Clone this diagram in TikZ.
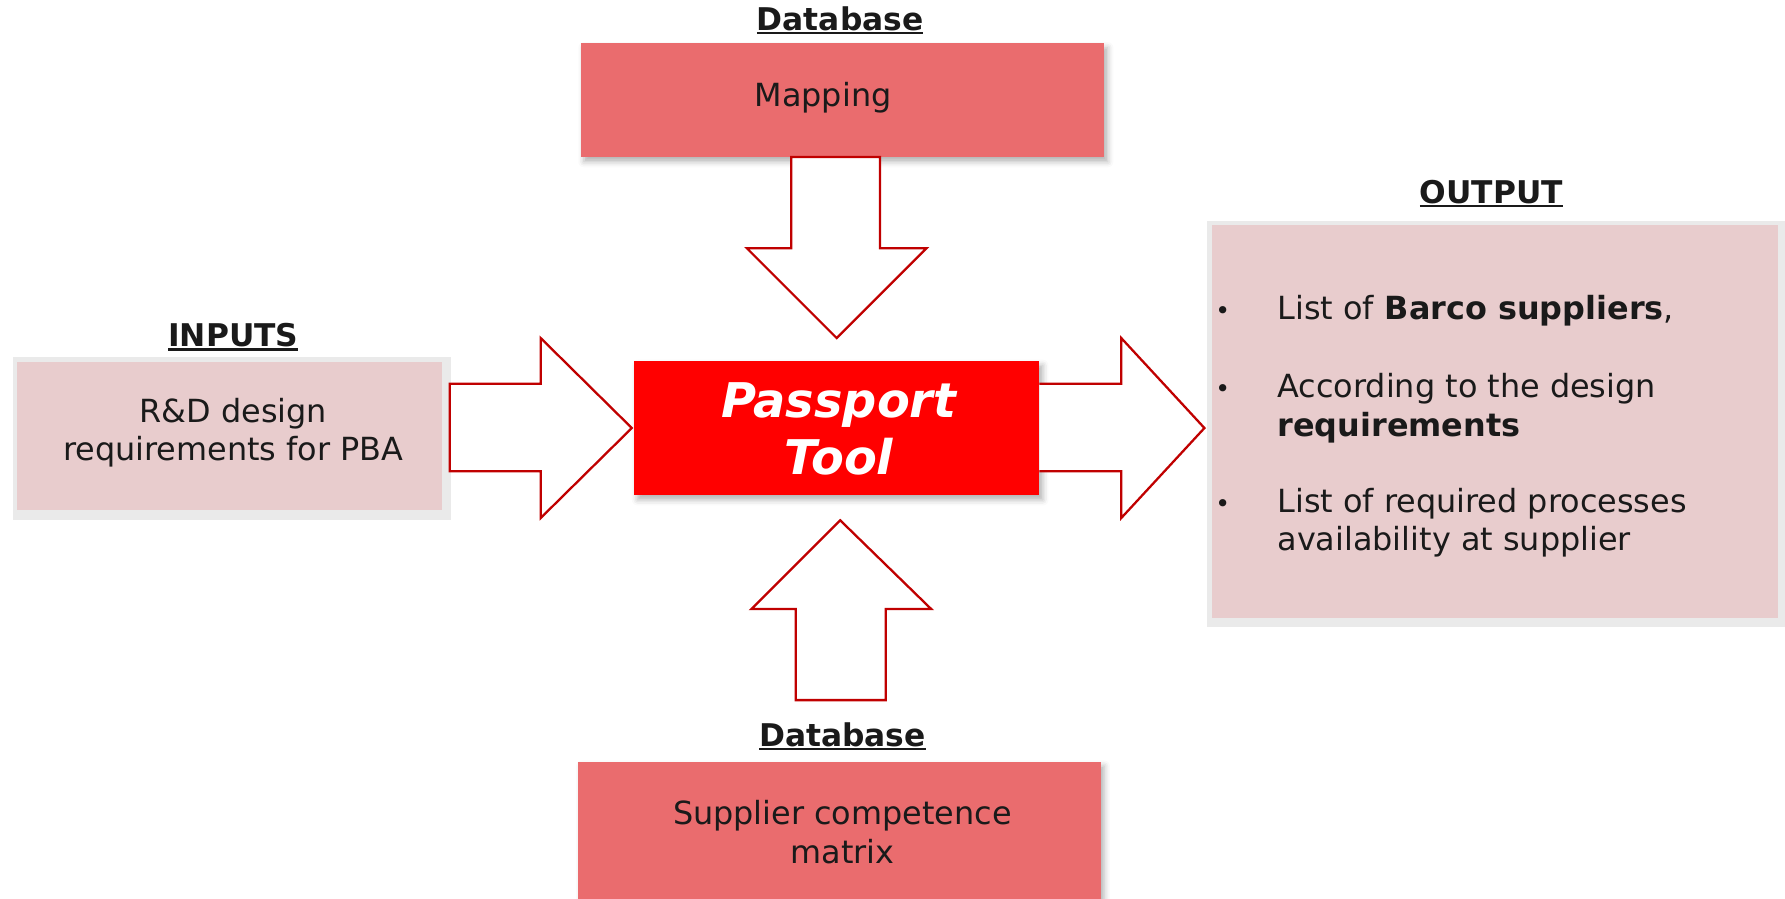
\documentclass[tikz,border=0pt]{standalone}
\usepackage{fontspec}
\setmainfont{DejaVu Sans}
\usetikzlibrary{shadows,shadows.blur}

\definecolor{dbred}{RGB}{234,108,110}
\definecolor{paleRose}{RGB}{232,204,205}
\definecolor{toolred}{RGB}{255,0,0}
\definecolor{arrowred}{RGB}{192,0,0}
\definecolor{ink}{RGB}{26,26,26}
\definecolor{glow}{RGB}{234,234,234}

% underlined heading with a rule scaled to the font
\newcommand\headul[1]{\setbox0\hbox{#1}\rlap{\rule[-0.13em]{\wd0}{0.085em}}\box0}

\tikzset{
  bodytext/.style={font=\fontsize{28}{34}\selectfont, text=ink, inner sep=0pt},
  headlabel/.style={font=\fontsize{27.5}{33}\selectfont\bfseries, text=ink, inner sep=0pt},
  softshadow/.style={blur shadow={shadow xshift=3pt, shadow yshift=-4pt,
    shadow blur radius=5pt, shadow opacity=30}},
  dbbox/.style={fill=dbred, draw=none, inner sep=0pt, softshadow},
  rosebox/.style={fill=paleRose, draw=none, inner sep=0pt},
  toolbox/.style={fill=toolred, draw=none, inner sep=0pt, softshadow},
  blockarrow/.style={draw=arrowred, line width=2pt, fill=white, line join=miter},
}

\begin{document}
\begin{tikzpicture}[x=1pt,y=-1pt]
\useasboundingbox (0,0) rectangle (1568,789);

% ---- top database ----
\node[headlabel] (dbtop) at (738,18) {\headul{Database}};
\node[dbbox, minimum width=460pt, minimum height=100pt] (map) at (740,88) {};
\node[bodytext] (maptext) at (723,86) {Mapping};

% ---- inputs ----
\node[headlabel] (inlabel) at (205,296) {\headul{INPUTS}};
\fill[glow] (11,314) rectangle (396,457);
\node[rosebox, minimum width=373pt, minimum height=130pt] (inbox) at (201.5,383) {};
\node[bodytext, align=center] (intext) at (205,380) {R\&D design\\requirements for PBA};

% ---- central tool ----
\node[toolbox, minimum width=356pt, minimum height=118pt] (tool) at (735,376) {};
\node[font=\fontsize{42}{50}\selectfont\bfseries\itshape, text=white, align=center, inner sep=0pt]
  (tooltext) at (737,377) {Passport\\Tool};

% ---- output ----
\node[headlabel] (outlabel) at (1310,170) {\headul{OUTPUT}};
\fill[glow] (1060,194) rectangle (1568,551);
\node[rosebox, minimum width=497pt, minimum height=345pt] (outbox) at (1313.5,370.5) {};
\foreach \yy/\nm in {281/b1, 349/b2, 450/b3}
  \node[bodytext, anchor=base] (\nm) at (1074,\yy) {\fontsize{22}{26}\selectfont•};
\node[bodytext, anchor=base west] (o1) at (1122,281) {List of \textbf{Barco suppliers},};
\node[bodytext, anchor=base west, align=left] (o2) at (1122,383) {According to the design\\\textbf{requirements}};
\node[bodytext, anchor=base west, align=left] (o3) at (1122,484) {List of required processes\\availability at supplier};

% ---- bottom database ----
\node[headlabel] (dbbot) at (740,647) {\headul{Database}};
\node[dbbox, minimum width=459pt, minimum height=140pt] (matrix) at (737.5,739) {};
\node[bodytext, align=center] (matrixtext) at (740,731) {Supplier competence\\matrix};

% ---- block arrows ----
% down, from mapping into the tool
\draw[blockarrow] (695,138) -- (773,138) -- (773,218) -- (814,218) -- (735,297)
  -- (656,218) -- (695,218) -- cycle;
% right, from inputs into the tool
\draw[blockarrow] (395,337) -- (475,337) -- (475,297) -- (555,376) -- (475,455)
  -- (475,414) -- (395,414) -- cycle;
% right, from the tool to the output
\draw[blockarrow] (913,337) -- (985,337) -- (985,297) -- (1058,376) -- (985,455)
  -- (985,414) -- (913,414);
% up, from the competence matrix into the tool
\draw[blockarrow] (699,615) -- (778,615) -- (778,535) -- (818,535) -- (738,457)
  -- (660,535) -- (699,535) -- cycle;
\end{tikzpicture}
\end{document}
